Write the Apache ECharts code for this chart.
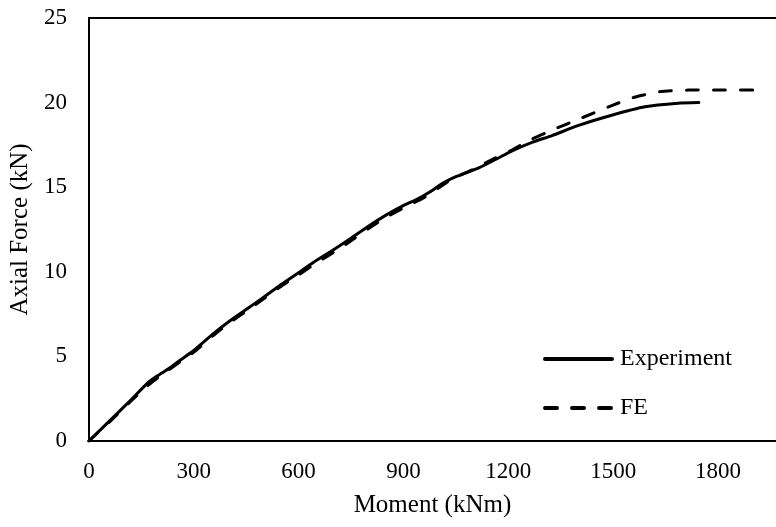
<!DOCTYPE html>
<html>
<head>
<meta charset="utf-8">
<script src="https://cdn.jsdelivr.net/npm/echarts@6/dist/echarts.min.js"></script>
<style>
  html, body { margin: 0; padding: 0; background: #fff; }
  #chart { width: 776px; height: 527px; }
</style>
</head>
<body>
<div id="chart"></div>
<script>
// Moment (kNm) vs axial force (kN): measured response and FE prediction
const experiment = [
  [0, 0], [60, 1.2], [120, 2.42], [167, 3.41], [196, 3.85], [230, 4.3],
  [262, 4.79], [300, 5.35], [357, 6.36], [400, 7.05], [452, 7.8], [500, 8.5],
  [547, 9.2], [600, 9.95], [642, 10.55], [700, 11.3], [737, 11.8], [804, 12.75],
  [850, 13.35], [898, 13.9], [940, 14.3], [974, 14.7], [1012, 15.23], [1050, 15.62],
  [1117, 16.15], [1169, 16.7], [1211, 17.15], [1268, 17.65], [1325, 18.05],
  [1401, 18.65], [1496, 19.25], [1591, 19.75], [1686, 19.96], [1745, 20.0]
];
const fe = [
  [0, 0], [60, 1.15], [120, 2.35], [170, 3.3], [200, 3.78], [262, 4.7],
  [300, 5.25], [357, 6.25], [400, 6.95], [452, 7.7], [500, 8.4], [547, 9.1],
  [600, 9.82], [642, 10.4], [700, 11.15], [737, 11.65], [800, 12.55], [840, 13.1],
  [907, 13.85], [960, 14.4], [1000, 14.95], [1040, 15.5], [1100, 16.05], [1160, 16.7],
  [1211, 17.2], [1268, 17.85], [1334, 18.45], [1411, 19.1], [1487, 19.75],
  [1558, 20.3], [1634, 20.65], [1715, 20.74], [1800, 20.75], [1900, 20.75]
];
const xTicks = [0, 300, 600, 900, 1200, 1500, 1800];
const yTicks = [0, 5, 10, 15, 20, 25];
const seriesNames = ['Experiment', 'FE'];

const FONT = '"Liberation Serif", "Times New Roman", serif';
const X_MAX = 1966;
const chart = echarts.init(document.getElementById('chart'));
chart.setOption({
  animation: false,
  backgroundColor: '#fff',
  grid: { left: 88, top: 18, bottom: 86, right: 0 },
  legend: {
    orient: 'vertical',
    left: 543, top: 347,
    itemWidth: 67, itemHeight: 14, itemGap: 25,
    padding: 0,
    data: seriesNames,
    itemStyle: { color: 'transparent', borderColor: 'transparent', borderWidth: 0 },
    lineStyle: { width: 4 },
    textStyle: { fontFamily: FONT, fontSize: 24, color: '#000', padding: [0, 0, 0, 3] }
  },
  xAxis: [
    {
      type: 'value',
      min: 0, max: X_MAX, interval: 300,
      name: 'Moment (kNm)',
      nameLocation: 'middle',
      nameGap: 52,
      nameTextStyle: { fontFamily: FONT, fontSize: 25, color: '#000' },
      axisLine: { show: true, lineStyle: { color: '#000', width: 2 } },
      axisTick: { show: false },
      splitLine: { show: false },
      axisLabel: {
        fontFamily: FONT, fontSize: 23, color: '#000', margin: 19,
        showMaxLabel: false,
        formatter: v => (xTicks.includes(v) ? String(v) : '')
      }
    },
    {
      // frame line along the top of the plot
      type: 'value', position: 'top',
      min: 0, max: X_MAX,
      axisLine: { show: true, lineStyle: { color: '#000', width: 2 } },
      axisTick: { show: false },
      axisLabel: { show: false },
      splitLine: { show: false }
    }
  ],
  yAxis: {
    type: 'value',
    min: 0, max: 25, interval: 5,
    name: 'Axial Force (kN)',
    nameLocation: 'middle',
    nameGap: 50,
    nameTextStyle: { fontFamily: FONT, fontSize: 25, color: '#000' },
    axisLine: { show: true, lineStyle: { color: '#000', width: 2 } },
    axisTick: { show: false },
    splitLine: { show: false },
    axisLabel: {
      fontFamily: FONT, fontSize: 23, color: '#000', margin: 22,
      formatter: v => (yTicks.includes(v) ? String(v) : '')
    }
  },
  series: [
    {
      name: seriesNames[0], type: 'line', data: experiment,
      symbol: 'none', smooth: 0.2,
      lineStyle: { color: '#000', width: 3, cap: 'round', join: 'round' },
      itemStyle: { color: '#000' }
    },
    {
      name: seriesNames[1], type: 'line', data: fe,
      symbol: 'none', smooth: 0.2,
      lineStyle: { color: '#000', width: 3, type: [12, 15], cap: 'round', join: 'round' },
      itemStyle: { color: '#000' }
    }
  ]
});
</script>
</body>
</html>
